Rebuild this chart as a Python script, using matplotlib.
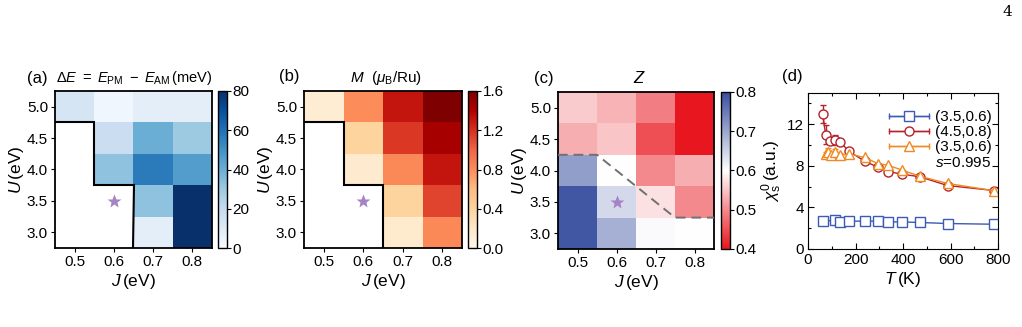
import numpy as np
import matplotlib
matplotlib.use("Agg")
import matplotlib.pyplot as plt
from matplotlib.colors import LinearSegmentedColormap
from matplotlib.container import ErrorbarContainer
from matplotlib.legend_handler import HandlerErrorbar
from matplotlib.lines import Line2D

plt.rcParams['font.family'] = ['Liberation Sans', 'DejaVu Sans']
plt.rcParams['mathtext.fontset'] = 'custom'
plt.rcParams['mathtext.rm'] = 'Liberation Sans'
plt.rcParams['mathtext.it'] = 'Liberation Sans:italic'
plt.rcParams['mathtext.bf'] = 'Liberation Sans:bold'

# ---------------- data ----------------
J_vals = [0.5, 0.6, 0.7, 0.8]
U_vals = [3.0, 3.5, 4.0, 4.5, 5.0]

# rows: U = 3.0 ... 5.0 ; columns: J = 0.5 ... 0.8 ; nan = no AFM solution
dE = [
    [np.nan, np.nan, 8, 85],
    [np.nan, np.nan, 33, 85],
    [np.nan, 33, 57, 46],
    [np.nan, 18, 40, 30],
    [14, 3, 8, 8],
]
M = [
    [np.nan, np.nan, 0.18, 0.82],
    [np.nan, np.nan, 0.4, 1.12],
    [np.nan, 0.17, 0.82, 1.31],
    [np.nan, 0.4, 1.17, 1.45],
    [0.14, 0.8, 1.31, 1.6],
]
Z = [
    [0.79, 0.69, 0.605, 0.60],
    [0.79, 0.645, 0.575, 0.50],
    [0.71, 0.60, 0.50, 0.53],
    [0.53, 0.55, 0.45, 0.40],
    [0.555, 0.535, 0.49, 0.40],
]
star_J, star_U = 0.6, 3.5
z_boundary_J = [0.45, 0.55, 0.75, 0.85]
z_boundary_U = [4.25, 4.25, 3.25, 3.25]

T_blue = [62, 112, 135, 172, 238, 296, 336, 395, 470, 588, 785]
chi_blue = [2.7, 2.75, 2.6, 2.68, 2.68, 2.68, 2.62, 2.6, 2.55, 2.45, 2.38]
T_red = [62, 74, 93, 112, 135, 172, 238, 296, 336, 395, 470, 588, 785]
chi_red = [13.0, 11.0, 10.4, 10.5, 10.3, 9.4, 8.45, 7.85, 7.45, 7.2, 6.95, 6.1, 5.62]
err_red = [0.85, 0.95, 0.3, 0.5, 0.3, 0.2, 0, 0, 0, 0, 0, 0, 0]
T_orange = [74, 86, 97, 114, 136, 172, 238, 296, 336, 395, 470, 588, 785]
chi_orange = [9.1, 9.3, 9.0, 9.35, 9.0, 9.15, 8.8, 8.2, 8.05, 7.6, 7.0, 6.3, 5.6]
err_orange = [0.25, 0.45, 0.25, 0.3, 0.25, 0.1, 0, 0, 0, 0, 0, 0, 0]
labels_d = ['(3.5,0.6)', '(4.5,0.8)', '(3.5,0.6)']
s_label = r'$s$=0.995'

# ---------------- figure ----------------
fig = plt.figure(figsize=(10.22, 3.27), dpi=100)
W, H = 1022.0, 327.0

def fax(x0, y0, x1, y1):
    return fig.add_axes([x0 / W, 1 - y1 / H, (x1 - x0) / W, (y1 - y0) / H])

FS = 11
LFS = 12.5
star_color = '#a583c4'
cmap_z = LinearSegmentedColormap.from_list('z', ['#e8161e', '#ffffff', '#394f9f'])

def heat(ax, cax, data, cmap, vmin, vmax, cticks, cticklabels):
    arr = np.ma.masked_invalid(np.array(data, dtype=float))
    m = ax.pcolormesh(J_vals, U_vals, arr, cmap=cmap, vmin=vmin, vmax=vmax,
                      shading='nearest')
    ax.set_xlim(J_vals[0] - 0.05, J_vals[-1] + 0.05)
    ax.set_ylim(U_vals[0] - 0.25, U_vals[-1] + 0.25)
    ax.set_xticks(J_vals)
    ax.set_yticks(U_vals)
    ax.set_xticklabels([f'{v:.1f}' for v in J_vals])
    ax.set_yticklabels([f'{v:.1f}' for v in U_vals])
    ax.tick_params(labelsize=FS, length=3, width=0.8, pad=2)
    for s in ax.spines.values():
        s.set_linewidth(1.3)
    ax.set_xlabel(r'$J\,$(eV)', fontsize=LFS, labelpad=2)
    ax.set_ylabel(r'$U\,$(eV)', fontsize=LFS, labelpad=1)
    ax.plot([star_J], [star_U], marker='*', ms=10, color=star_color, mec='none', zorder=5)
    cb = fig.colorbar(m, cax=cax)
    cb.set_ticks(cticks)
    cb.set_ticklabels(cticklabels)
    cb.ax.tick_params(labelsize=FS, length=3, width=0.8, pad=1)
    cb.outline.set_linewidth(1.0)
    return arr

def staircase(ax, arr):
    # boundary of masked (no solution) region, built from the mask
    xs, ys = [], []
    for j, Jv in enumerate(J_vals):
        col = arr.mask[:, j] if np.ndim(arr.mask) else np.zeros(len(U_vals), bool)
        if not col.any():
            xs.append(Jv - 0.05)
            ys.append(U_vals[0] - 0.25)
            break
        top = U_vals[np.where(col)[0].max()] + 0.25
        xs += [Jv - 0.05, Jv + 0.05]
        ys += [top, top]
    ax.plot(xs, ys, color='black', lw=1.5, zorder=4, solid_joinstyle='miter')

# (a)
axa = fax(55, 91, 212, 248)
caxa = fax(218, 91, 227, 248)
arr = heat(axa, caxa, dE, 'Blues', 0, 80, [0, 20, 40, 60, 80], ['0', '20', '40', '60', '80'])
staircase(axa, arr)
fig.text(27 / W, 1 - 78 / H, '(a)', fontsize=12, va='center', ha='left')
fig.text(56 / W, 1 - 78 / H, r'$\Delta E\ =\ E_{\rm PM}\ -\ E_{\rm AM}\,$(meV)',
         fontsize=10.5, va='center', ha='left')

# (b)
axb = fax(304, 91, 462, 248)
caxb = fax(468, 91, 477, 248)
arr = heat(axb, caxb, M, 'OrRd', 0, 1.6, [0, 0.4, 0.8, 1.2, 1.6], ['0.0', '0.4', '0.8', '1.2', '1.6'])
staircase(axb, arr)
fig.text(279 / W, 1 - 77 / H, '(b)', fontsize=12, va='center', ha='left')
fig.text(386 / W, 1 - 78 / H, r'$M$  ($\mu_{\rm B}$/Ru)', fontsize=11, va='center', ha='center')

# (c)
axc = fax(558, 92, 714, 249)
caxc = fax(721, 92, 730, 249)
heat(axc, caxc, Z, cmap_z, 0.4, 0.8, [0.4, 0.5, 0.6, 0.7, 0.8], ['0.4', '0.5', '0.6', '0.7', '0.8'])
axc.plot(z_boundary_J, z_boundary_U, ls=(0, (5, 3)), color='#707070', lw=1.4, zorder=4)
fig.text(534 / W, 1 - 78 / H, '(c)', fontsize=12, va='center', ha='left')
fig.text(639 / W, 1 - 78 / H, r'$Z$', fontsize=12, va='center', ha='center')

# (d)
axd = fax(808, 93, 998, 249)
c_blue, c_red, c_orange = '#3b5bb5', '#b3232b', '#ef8a22'
mkw = dict(mfc='white', ms=6.5, mew=1.0, lw=1.0, capsize=2.5, elinewidth=1.0, capthick=1.0)
axd.errorbar(T_blue, chi_blue, color=c_blue, marker='s', **mkw)
axd.errorbar(T_red, chi_red, yerr=err_red, color=c_red, marker='o', **mkw)
axd.errorbar(T_orange, chi_orange, yerr=err_orange, color=c_orange, marker='^', **mkw)
axd.set_xlim(0, 800)
axd.set_ylim(0, 15)
axd.set_xticks([0, 200, 400, 600, 800])
axd.set_yticks([0, 4, 8, 12])
axd.set_xticks(np.arange(100, 800, 200), minor=True)
axd.set_yticks([2, 6, 10, 14], minor=True)
axd.tick_params(which='both', direction='in', top=True, right=True, labelsize=FS, width=0.8, pad=3)
axd.tick_params(which='major', length=4)
axd.tick_params(which='minor', length=2.5)
axd.set_xlabel(r'$T\,$(K)', fontsize=LFS, labelpad=2)
axd.set_ylabel(r'$\chi_{\rm s}^{0}\,$(a.u.)', fontsize=LFS, labelpad=2)
fig.text(782 / W, 1 - 76 / H, '(d)', fontsize=12, va='center', ha='left')

handles = []
for c, mk in [(c_blue, 's'), (c_red, 'o'), (c_orange, '^')]:
    h = axd.errorbar([np.nan], [np.nan], xerr=[0], color=c, marker=mk, **mkw)
    handles.append(h)
handles.append(Line2D([], [], color='none'))
leg = axd.legend(handles, labels_d + [s_label], loc='upper right', frameon=False,
                 fontsize=FS, handlelength=2.6, handletextpad=0.4, labelspacing=0.08,
                 borderaxespad=0.0, bbox_to_anchor=(1.0, 0.93),
                 handler_map={ErrorbarContainer: HandlerErrorbar(xerr_size=1.3)})

# page number
fig.text(1012 / W, 1 - 12 / H, '4', fontsize=11, family='DejaVu Serif', ha='right', va='center')

fig.savefig('out.png', dpi=100)
